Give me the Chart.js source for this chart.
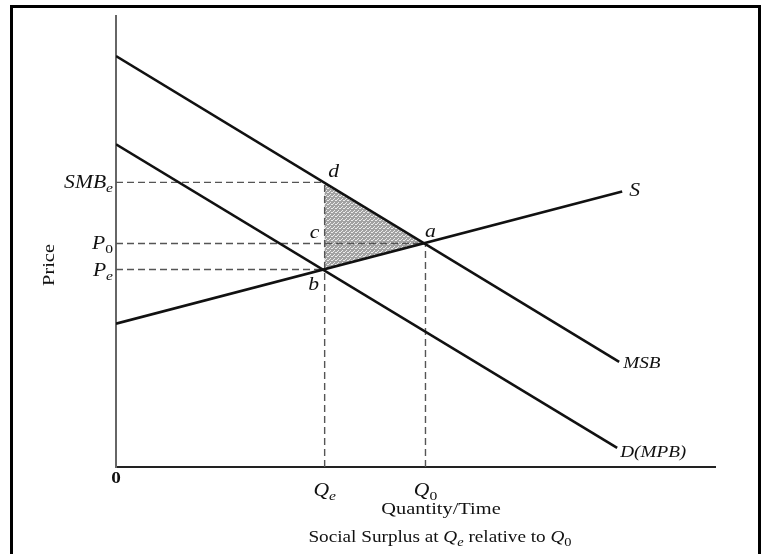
<!DOCTYPE html>
<html>
<head>
<meta charset="utf-8">
<script src="https://cdn.jsdelivr.net/npm/chart.js@4"></script>
<style>
  html, body { margin: 0; padding: 0; background: #fff; overflow: hidden; }
  #frame { position: absolute; left: 10px; top: 5px; width: 745px; height: 600px; border: 3px solid #000; }
  #chart { position: absolute; left: 0; top: 0; }
</style>
</head>
<body>
<div id="frame"></div>
<canvas id="chart" width="763" height="554"></canvas>
<script>
// 곡선 끝점 (Quantity, Price)
const msbQ = [0, 50.4];
const msbP = [41.0, 10.5];
const demandQ = [0, 50.2];
const demandP = [32.2, 1.9];
const supplyQ = [0, 50.7];
const supplyP = [14.3, 27.5];
const curveNames = ['MSB', 'D(MPB)', 'S'];

// 축 눈금 (점선 수준)
const qTicks = [20.9, 31.0];
const qTickSubs = ['e', '0'];
const qTickReach = [28.4, 22.3];          // vertical dashes go up to this price
const pTicks = [28.4, 22.3, 19.7];
const pTickNames = ['SMB', 'P', 'P'];
const pTickSubs = ['e', '0', 'e'];
const pTickReach = [20.9, 31.0, 20.9];   // horizontal dashes go out to this quantity

// 점 이름
const pointNames = ['d', 'c', 'a', 'b'];
const pointQ = [20.9, 20.9, 31.0, 20.9];
const pointP = [28.4, 22.3, 22.3, 19.7];

// 음영 삼각형 d-a-b
const shadeQ = [20.9, 31.0, 20.9];
const shadeP = [28.4, 22.3, 19.7];

const SERIF = '"Liberation Serif", "DejaVu Serif", serif';
const WIDE = 1.2;   // 스캔 글자가 가로로 넓음

const toPts = (xs, ys) => xs.map((x, i) => ({ x: x, y: ys[i] }));

const solid = (xs, ys) => ({
  data: toPts(xs, ys),
  showLine: true,
  borderColor: '#111',
  borderWidth: 2.6,
  pointRadius: 0,
  fill: false
});

const dashed = (xs, ys) => ({
  data: toPts(xs, ys),
  showLine: true,
  borderColor: '#555',
  borderWidth: 1.4,
  borderDash: [7, 4],
  pointRadius: 0,
  fill: false
});

const datasets = [
  solid(msbQ, msbP),
  solid(demandQ, demandP),
  solid(supplyQ, supplyP)
];
pTicks.forEach((p, i) => datasets.push(dashed([0, pTickReach[i]], [p, p])));
qTicks.forEach((q, i) => datasets.push(dashed([q, q], [0, qTickReach[i]])));

// 점무늬 패턴
function stipple(ctx) {
  const c = document.createElement('canvas');
  c.width = 4; c.height = 4;
  const g = c.getContext('2d');
  g.fillStyle = '#a2a2a2';
  g.fillRect(0, 0, 4, 4);
  g.fillStyle = '#ececec';
  g.fillRect(0, 0, 1, 1);
  g.fillRect(2, 2, 1, 1);
  g.fillRect(3, 0, 1, 1);
  g.fillRect(1, 3, 1, 1);
  return ctx.createPattern(c, 'repeat');
}

const shadePlugin = {
  id: 'shade',
  beforeDatasetsDraw(chart) {
    const { ctx, scales: { x, y } } = chart;
    ctx.save();
    ctx.beginPath();
    shadeQ.forEach((q, i) => {
      const px = x.getPixelForValue(q), py = y.getPixelForValue(shadeP[i]);
      if (i === 0) ctx.moveTo(px, py); else ctx.lineTo(px, py);
    });
    ctx.closePath();
    ctx.fillStyle = stipple(ctx);
    ctx.fill();
    ctx.restore();
  }
};

// 가로로 늘린 글자
function wideText(ctx, text, x, y) {
  ctx.save();
  ctx.translate(x, y);
  ctx.scale(WIDE, 1);
  ctx.fillText(text, 0, 0);
  ctx.restore();
}

// 여러 조각 (글꼴, 기준선 이동) 이어 쓰기
function runText(ctx, parts, x, y, align) {
  let total = 0;
  parts.forEach(p => { ctx.font = p[1] + SERIF; total += ctx.measureText(p[0]).width * WIDE; });
  let cx = x;
  if (align === 'right') cx = x - total;
  else if (align === 'center') cx = x - total / 2;
  ctx.textAlign = 'left';
  ctx.textBaseline = 'alphabetic';
  parts.forEach(p => {
    ctx.font = p[1] + SERIF;
    wideText(ctx, p[0], cx, y + p[2]);
    cx += ctx.measureText(p[0]).width * WIDE;
  });
}

function subText(ctx, main, sub, x, y, size, align) {
  const subSize = Math.round(size * 0.72);
  const base = y + size * 0.33;
  runText(ctx, [
    [main, 'italic ' + size + 'px ', 0],
    [sub, (sub === '0' ? '' : 'italic ') + subSize + 'px ', Math.round(size * 0.2)]
  ], x, base, align);
}

const labelPlugin = {
  id: 'labels',
  afterDatasetsDraw(chart) {
    const { ctx, scales: { x, y } } = chart;
    ctx.save();
    ctx.fillStyle = '#111';

    // 가격 눈금
    pTicks.forEach((p, i) => {
      subText(ctx, pTickNames[i], pTickSubs[i], x.left - 3, y.getPixelForValue(p), 18, 'right');
    });
    // 수량 눈금
    qTicks.forEach((q, i) => {
      subText(ctx, 'Q', qTickSubs[i], x.getPixelForValue(q), y.bottom + 23, 18, 'center');
    });

    ctx.textBaseline = 'middle';
    ctx.textAlign = 'center';
    ctx.font = 'bold 16px ' + SERIF;
    wideText(ctx, '0', x.getPixelForValue(0), y.bottom + 12);

    // 점 이름
    const offs = { d: [9, -10], c: [-10, -10], a: [5, -11], b: [-11, 16] };
    ctx.font = 'italic 18px ' + SERIF;
    pointNames.forEach((n, i) => {
      const o = offs[n];
      wideText(ctx, n, x.getPixelForValue(pointQ[i]) + o[0], y.getPixelForValue(pointP[i]) + o[1]);
    });

    // 곡선 이름
    ctx.textAlign = 'left';
    ctx.font = 'italic 16px ' + SERIF;
    wideText(ctx, curveNames[0], x.getPixelForValue(msbQ[1]) + 4, y.getPixelForValue(msbP[1]) + 2);
    wideText(ctx, curveNames[1], x.getPixelForValue(demandQ[1]) + 3, y.getPixelForValue(demandP[1]) + 5);
    ctx.font = 'italic 18px ' + SERIF;
    wideText(ctx, curveNames[2], x.getPixelForValue(supplyQ[1]) + 7, y.getPixelForValue(supplyP[1]));

    // 축 제목
    ctx.font = '17px ' + SERIF;
    ctx.textAlign = 'center';
    wideText(ctx, 'Quantity/Time', 441, y.bottom + 43);

    ctx.save();
    ctx.translate(50, 265);
    ctx.rotate(-Math.PI / 2);
    ctx.scale(WIDE, 1);
    ctx.fillText('Price', 0, 0);
    ctx.restore();

    // 캡션
    runText(ctx, [
      ['Social Surplus at ', '16px ', 0],
      ['Q', 'italic 16px ', 0],
      ['e', 'italic 12px ', 4],
      [' relative to ', '16px ', 0],
      ['Q', 'italic 16px ', 0],
      ['0', '12px ', 4]
    ], 440, y.bottom + 75, 'center');

    ctx.restore();
  }
};

new Chart(document.getElementById('chart'), {
  type: 'scatter',
  data: { datasets: datasets },
  options: {
    responsive: false,
    animation: false,
    devicePixelRatio: 1,
    layout: { padding: { left: 116, right: 48, top: 16, bottom: 87 } },
    plugins: { legend: { display: false }, tooltip: { enabled: false } },
    scales: {
      x: {
        type: 'linear', min: 0, max: 60,
        grid: { display: false, drawTicks: false },
        ticks: { display: false },
        border: { color: '#222', width: 2 }
      },
      y: {
        type: 'linear', min: 0, max: 45,
        grid: { display: false, drawTicks: false },
        ticks: { display: false },
        border: { color: '#666', width: 2 }
      }
    }
  },
  plugins: [shadePlugin, labelPlugin]
});
</script>
</body>
</html>
